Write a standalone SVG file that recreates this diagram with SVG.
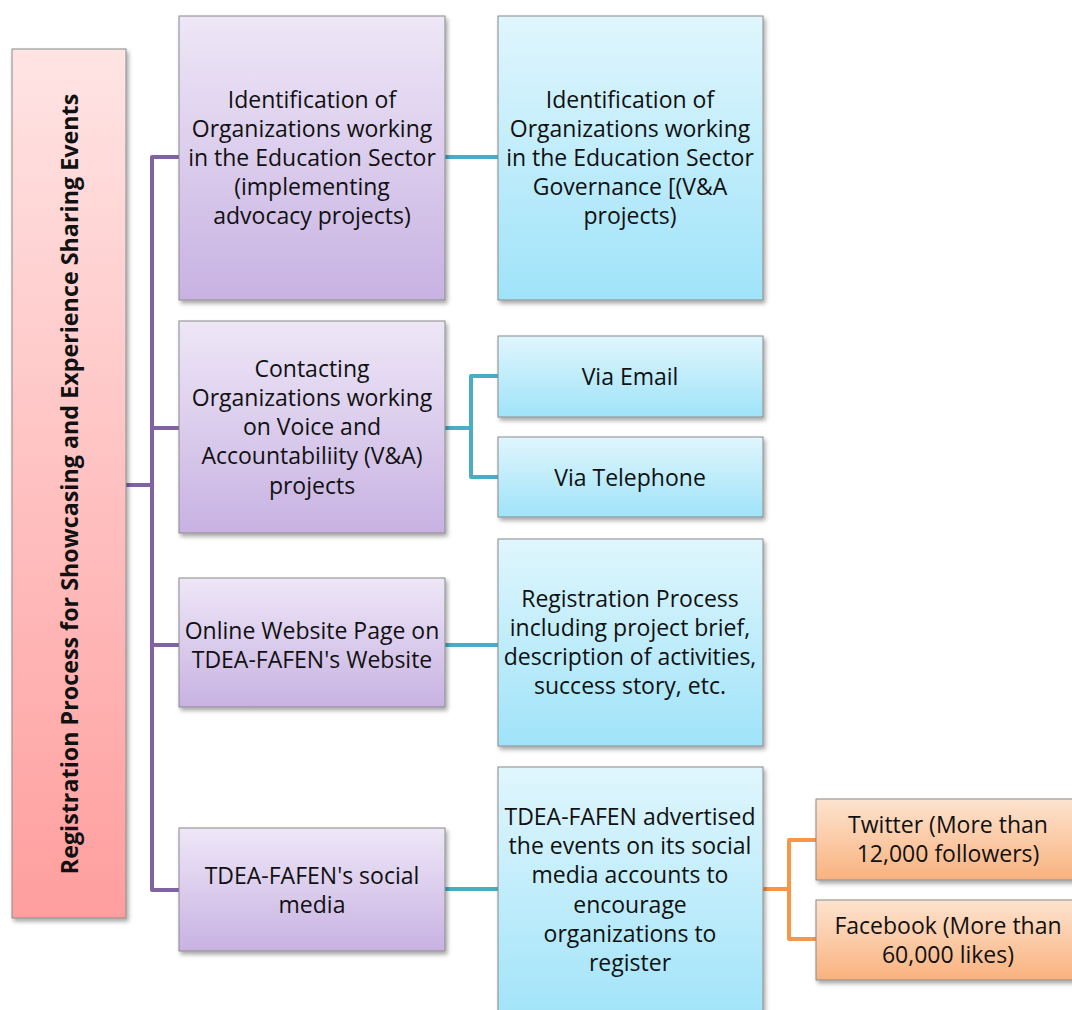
<svg xmlns="http://www.w3.org/2000/svg" width="1072" height="1010" viewBox="0 0 1072 1010">
  <defs>
    <linearGradient id="gPink" x1="0" y1="0" x2="0" y2="1">
      <stop offset="0" stop-color="#ffe4e4"/>
      <stop offset="1" stop-color="#ff9e9e"/>
    </linearGradient>
    <linearGradient id="gPurple" x1="0" y1="0" x2="0" y2="1">
      <stop offset="0" stop-color="#eee7f7"/>
      <stop offset="1" stop-color="#c8b2e2"/>
    </linearGradient>
    <linearGradient id="gCyan" x1="0" y1="0" x2="0" y2="1">
      <stop offset="0" stop-color="#e0f6fd"/>
      <stop offset="1" stop-color="#9fe3f9"/>
    </linearGradient>
    <linearGradient id="gOrange" x1="0" y1="0" x2="0" y2="1">
      <stop offset="0" stop-color="#fde3cf"/>
      <stop offset="1" stop-color="#f9b27e"/>
    </linearGradient>
    <filter id="shadow" x="-10%" y="-10%" width="130%" height="130%">
      <feDropShadow dx="2" dy="3" stdDeviation="2" flood-color="#000" flood-opacity="0.35"/>
    </filter>
  </defs>
  <style>
    .box { stroke: #8a8a8a; stroke-width: 1; filter: url(#shadow); }
    .pink { fill: url(#gPink); }
    .purple { fill: url(#gPurple); }
    .cyan { fill: url(#gCyan); }
    .orange { fill: url(#gOrange); }
    .lbl { font-family: "Open Sans", "Liberation Sans", sans-serif; font-size: 23px; fill: #111; text-anchor: middle; dominant-baseline: central; }
    .title { font-family: "Open Sans", "Liberation Sans", sans-serif; font-size: 23.3px; font-weight: bold; fill: #111; text-anchor: middle; dominant-baseline: central; }
    .c-purple { stroke: #8064a2; stroke-width: 4; fill: none; stroke-linejoin: round; }
    .c-teal { stroke: #4bacc6; stroke-width: 4; fill: none; stroke-linejoin: round; }
    .c-orange { stroke: #f79646; stroke-width: 4; fill: none; stroke-linejoin: round; }
  </style>

  <rect width="1072" height="1010" fill="#ffffff"/>

  <!-- connectors -->
  <g id="connectors">
    <path class="c-purple" d="M126 485 H152 M179 157 H152 V890 H179 M152 428 H179 M152 645 H179"/>
    <path class="c-teal" d="M445 157 H498"/>
    <path class="c-teal" d="M445 428 H471 M498 376 H471 V477 H498"/>
    <path class="c-teal" d="M445 645 H498"/>
    <path class="c-teal" d="M445 889 H498"/>
    <path class="c-orange" d="M763 889 H789 M816 840 H789 V939 H816"/>
  </g>

  <!-- root -->
  <g id="root">
    <rect class="box pink" x="12" y="49" width="114" height="869"/>
    <text class="title" transform="translate(69 484) rotate(-90)">Registration Process for Showcasing and Experience Sharing Events</text>
  </g>

  <!-- first level -->
  <g id="identify">
    <rect class="box purple" x="179" y="16" width="266" height="284"/>
    <text class="lbl" x="312"><tspan x="312" y="99">Identification of</tspan><tspan x="312" y="128">Organizations working</tspan><tspan x="312" y="157">in the Education Sector</tspan><tspan x="312" y="186">(implementing</tspan><tspan x="312" y="215">advocacy projects)</tspan></text>
  </g>
  <g id="contact">
    <rect class="box purple" x="179" y="321" width="266" height="212"/>
    <text class="lbl"><tspan x="312" y="368">Contacting</tspan><tspan x="312" y="397">Organizations working</tspan><tspan x="312" y="426">on Voice and</tspan><tspan x="312" y="455">Accountabiliity (V&amp;A)</tspan><tspan x="312" y="485">projects</tspan></text>
  </g>
  <g id="website">
    <rect class="box purple" x="179" y="578" width="266" height="129"/>
    <text class="lbl"><tspan x="312" y="630">Online Website Page on</tspan><tspan x="312" y="659">TDEA-FAFEN's Website</tspan></text>
  </g>
  <g id="social">
    <rect class="box purple" x="179" y="828" width="266" height="123"/>
    <text class="lbl"><tspan x="312" y="875">TDEA-FAFEN's social</tspan><tspan x="312" y="904">media</tspan></text>
  </g>

  <!-- second level -->
  <g id="governance">
    <rect class="box cyan" x="498" y="16" width="265" height="284"/>
    <text class="lbl"><tspan x="630" y="99">Identification of</tspan><tspan x="630" y="128">Organizations working</tspan><tspan x="630" y="157">in the Education Sector</tspan><tspan x="630" y="186">Governance [(V&amp;A</tspan><tspan x="630" y="215">projects)</tspan></text>
  </g>
  <g id="email">
    <rect class="box cyan" x="498" y="336" width="265" height="81"/>
    <text class="lbl" x="630" y="376">Via Email</text>
  </g>
  <g id="telephone">
    <rect class="box cyan" x="498" y="437" width="265" height="80"/>
    <text class="lbl" x="630" y="477">Via Telephone</text>
  </g>
  <g id="registration">
    <rect class="box cyan" x="498" y="539" width="265" height="207"/>
    <text class="lbl"><tspan x="630" y="598">Registration Process</tspan><tspan x="630" y="627">including project brief,</tspan><tspan x="630" y="656">description of activities,</tspan><tspan x="630" y="685">success story, etc.</tspan></text>
  </g>
  <g id="advertised">
    <rect class="box cyan" x="498" y="767" width="265" height="260"/>
    <text class="lbl"><tspan x="630" y="816">TDEA-FAFEN advertised</tspan><tspan x="630" y="845">the events on its social</tspan><tspan x="630" y="874">media accounts to</tspan><tspan x="630" y="904">encourage</tspan><tspan x="630" y="933">organizations to</tspan><tspan x="630" y="962">register</tspan></text>
  </g>

  <!-- third level -->
  <g id="twitter">
    <rect class="box orange" x="816" y="799" width="270" height="81"/>
    <text class="lbl"><tspan x="948" y="824">Twitter (More than</tspan><tspan x="948" y="853">12,000 followers)</tspan></text>
  </g>
  <g id="facebook">
    <rect class="box orange" x="816" y="900" width="270" height="80"/>
    <text class="lbl"><tspan x="948" y="925">Facebook (More than</tspan><tspan x="948" y="954">60,000 likes)</tspan></text>
  </g>
</svg>
